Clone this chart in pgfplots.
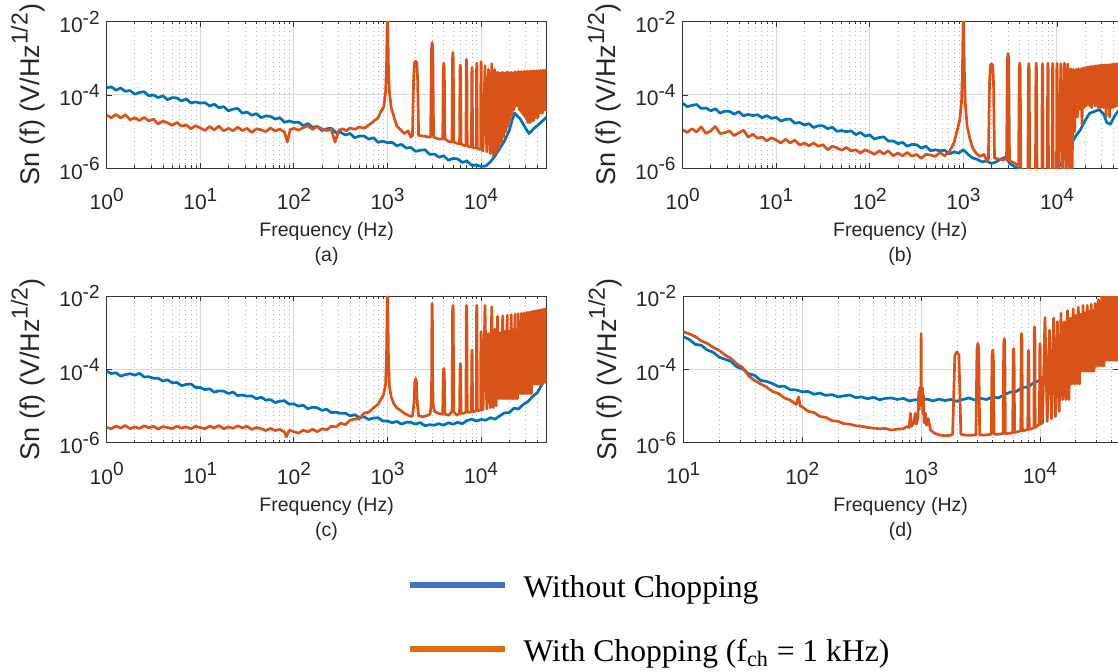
\documentclass[border=0pt]{standalone}
\usepackage{fontspec}
\setmainfont{Liberation Sans}
\newfontfamily\tnr{Liberation Serif}
\usepackage{pgfplots}
\pgfplotsset{compat=1.18}

\definecolor{mblue}{RGB}{0,114,189}
\definecolor{morange}{RGB}{217,83,25}
\definecolor{lgblue}{RGB}{68,114,196}
\definecolor{lgorange}{RGB}{228,108,10}

% MATLAB-style exponent: nearly full size, raised
\newcommand{\tsup}[1]{\raisebox{4.2pt}{\fontsize{9.5}{10}\selectfont #1}}

\pgfplotsset{
  every axis title/.style={at={(axis description cs:0.5,-0.6371)}, anchor=base,
    font=\fontsize{9.75}{11}\selectfont, text=black!85},
  every axis/.append style={
    scale only axis, height=73.3pt,
    xmode=log, ymode=log, ymin=1e-6, ymax=1e-2,
    ytick={1e-6,1e-4,1e-2},
    yticklabels={10\tsup{-6},10\tsup{-4},10\tsup{-2}},
    xmajorgrids=true, xminorgrids=true, ymajorgrids=true,
    major grid style={draw=black!15, line width=0.5pt},
    minor grid style={draw=black!30, line width=0.4pt, dash pattern=on 0.4pt off 1.8pt},
    axis line style={draw=black!80, line width=0.45pt},
    tick style={draw=black!80, line width=0.4pt},
    tick align=inside, major tick length=2.6pt, minor tick length=1.4pt,
    tick label style={font=\fontsize{10.5}{12}\selectfont, text=black!85},
    xticklabel style={yshift=-6.3pt},
    xlabel={Frequency (Hz)},
    xlabel style={at={(axis description cs:0.5,-0.4666)}, anchor=base,
      font=\fontsize{9.75}{11}\selectfont, text=black!85},
    ylabel={Sn (f) (V/Hz\raisebox{0.8ex}{\fontsize{11.5}{12}\selectfont 1/2})},
    ylabel style={at={(axis description cs:-0.1539,0.5)}, anchor=base,
      font=\fontsize{13.5}{15}\selectfont, text=black!85},
  },
  every axis plot/.append style={line width=1.35pt, line join=round},
}

\begin{document}
\begin{tikzpicture}
\useasboundingbox (0pt,0pt) rectangle (559pt,336pt);

% (a)
\begin{axis}[width=219.9pt, xmin=1, xmax=5e4, title={(a)},
  xtick={1,10,100,1000,10000},
  xticklabels={10\tsup{0},10\tsup{1},10\tsup{2},10\tsup{3},10\tsup{4}},
  minor xtick={2,3,4,5,6,7,8,9,20,30,40,50,60,70,80,90,200,300,400,500,600,700,800,900,2000,3000,4000,5000,6000,7000,8000,9000,20000,30000,40000},
  at={(53.35pt,251.85pt)}, anchor=south west]
\addplot[mblue] coordinates {
(1,1.58e-4) (1.12,1.66e-4) (1.26,1.35e-4) (1.41,1.55e-4) (1.58,1.26e-4) (1.78,1.32e-4) (2,1.05e-4) (2.24,1.17e-4) (2.51,1.23e-4) (2.82,9.5e-5)
(3.16,1.0e-4) (3.55,8.5e-5) (3.98,9.5e-5) (4.47,7.4e-5) (5.01,8.5e-5) (5.62,8.3e-5) (6.31,6.9e-5) (7.08,7.8e-5) (7.94,6.0e-5) (8.91,6.5e-5)
(10,6.0e-5) (11.2,6.2e-5) (12.6,5.0e-5) (14.1,5.6e-5) (15.8,4.5e-5) (17.8,4.8e-5) (20,3.7e-5) (22.4,4.1e-5) (25.1,4.3e-5) (28.2,3.2e-5)
(31.6,3.4e-5) (35.5,2.8e-5) (39.8,3.1e-5) (44.7,2.4e-5) (50.1,2.7e-5) (56.2,2.6e-5) (63.1,2.2e-5) (70.8,2.4e-5) (79.4,1.8e-5) (89.1,1.95e-5)
(100,1.78e-5) (112,1.82e-5) (126,1.45e-5) (141,1.66e-5) (158,1.32e-5) (178,1.38e-5) (200,1.07e-5) (224,1.2e-5) (251,1.23e-5) (282,9.3e-6)
(316,9.6e-6) (355,8.1e-6) (398,8.9e-6) (447,6.8e-6) (501,7.6e-6) (562,7.6e-6) (631,6.2e-6) (708,6.8e-6) (794,5.1e-6) (891,5.5e-6)
(1000,5.0e-6) (1122,5.1e-6) (1259,4.1e-6) (1413,4.5e-6) (1585,3.55e-6) (1778,3.7e-6) (1995,2.9e-6) (2239,3.1e-6) (2512,3.2e-6) (2818,2.4e-6)
(3162,2.45e-6) (3548,2.0e-6) (3981,2.2e-6) (4467,1.66e-6) (5012,1.86e-6) (5623,1.8e-6) (6310,1.45e-6) (7079,1.58e-6) (7943,1.2e-6) (8913,1.23e-6)
(10000,1.12e-6) (11220,1.15e-6) (12590,1.5e-6) (14130,2.2e-6) (15850,3.5e-6) (17780,5.6e-6) (19950,1.05e-5) (21380,2.0e-5) (22910,3.2e-5)
(24550,2.6e-5) (26300,2.2e-5) (28180,1.6e-5) (30200,1.2e-5) (32360,8.9e-6) (34670,1.05e-5) (37150,1.26e-5) (39810,1.45e-5) (44670,1.9e-5) (50120,2.5e-5)
};
\addplot[morange] coordinates {
(1,2.8e-5) (1.12,2.4e-5) (1.26,2.95e-5) (1.41,2.35e-5) (1.58,2.9e-5) (1.78,2.1e-5) (2,2.4e-5) (2.24,2.0e-5) (2.51,2.45e-5) (2.82,1.95e-5)
(3.16,2.2e-5) (3.55,1.62e-5) (3.98,1.95e-5) (4.47,1.74e-5) (5.01,1.48e-5) (5.62,1.78e-5) (6.31,1.41e-5) (7.08,1.51e-5) (7.94,1.2e-5) (8.91,1.45e-5)
(10,1.26e-5) (11.2,1.07e-5) (12.6,1.38e-5) (14.1,1.12e-5) (15.8,1.41e-5) (17.8,1.05e-5) (20,1.23e-5) (22.4,1.05e-5) (25.1,1.32e-5) (28.2,1.07e-5)
(31.6,1.23e-5) (35.5,9.5e-6) (39.8,1.2e-5) (44.7,1.12e-5) (50.1,1.0e-5) (56.2,1.26e-5) (63.1,1.05e-5) (70.8,1.17e-5) (79.4,9.8e-6) (85.1,5.2e-6) (91.2,1.12e-5)
(100,1.23e-5) (112,1.1e-5) (126,1.29e-5) (141,1.45e-5) (158,1.15e-5) (178,1.38e-5) (200,1.2e-5) (224,1.07e-5) (251,1.17e-5) (275,5.2e-6)
(302,1.07e-5) (331,1.2e-5) (363,1.05e-5) (398,1.26e-5) (447,1.15e-5) (501,1.35e-5) (562,1.23e-5) (631,1.51e-5) (708,1.9e-5) (794,2.4e-5)
(851,3.55e-5) (912,4.7e-5) (955,1.26e-4) (977,6.3e-4) (1000,3e-2) (1023,6.3e-4) (1047,1.26e-4) (1096,4.5e-5) (1175,2.5e-5) (1259,1.41e-5)
(1380,1.12e-5) (1514,8.9e-6) (1660,1.05e-5) (1778,7.1e-6)
(1850,7.9e-6) (1900,2.5e-4) (1940,7.6e-4) (2000,8.3e-4) (2060,7.6e-4) (2100,2.5e-4) (2150,8.0e-6) (2350,7.6e-6) (2550,7.4e-6) (2750,7.1e-6)
(2890,7.1e-6) (2955,1.9e-3) (3000,2.7e-3) (3045,1.9e-3) (3110,7.1e-6) (3500,6.3e-6)
(3890,6.3e-6) (3955,5.2e-4) (4000,7.4e-4) (4045,5.2e-4) (4110,6.3e-6) (4500,5.4e-6)
(4890,5.2e-6) (4955,1.0e-3) (5000,1.45e-3) (5045,1.0e-3) (5110,5.2e-6) (5500,4.8e-6)
(5890,4.7e-6) (5955,4.7e-4) (6000,6.6e-4) (6045,4.7e-4) (6110,4.7e-6) (6500,4.2e-6)
(6890,4.2e-6) (6955,6.6e-4) (7000,9.3e-4) (7045,6.6e-4) (7110,4.2e-6) (7500,3.8e-6)
(7890,3.8e-6) (7955,4.0e-4) (8000,5.6e-4) (8045,4.0e-4) (8110,3.8e-6) (8500,3.55e-6)
(8890,3.55e-6) (8955,5.2e-4) (9000,7.4e-4) (9045,5.2e-4) (9110,3.55e-6) (9500,3.3e-6)
(9890,3.3e-6) (9955,5.8e-4) (10000,8.1e-4) (10045,5.8e-4) (10110,3.3e-6) (10500,3.0e-6)
(11000,6.3e-4) (11500,2.8e-6) (12000,5.0e-4) (12500,2.5e-6) (13000,7.1e-4) (13500,2.2e-6) (14000,5.0e-4) (14500,2.5e-6)
(15000,4.2e-4) (15500,3.5e-6) (16000,4.0e-4) (16500,5.0e-6) (17000,4.2e-4) (17500,7.1e-6) (18000,4.0e-4) (18500,1.0e-5)
(19000,4.3e-4) (19500,1.41e-5) (20000,4.0e-4) (20500,2.0e-5) (21000,4.2e-4) (21500,2.8e-5) (22000,4.0e-4) (22500,4.0e-5)
(23000,4.3e-4) (23500,5.0e-5) (24000,4.1e-4) (24500,5.0e-5) (25000,4.4e-4) (25500,4.0e-5) (26000,4.2e-4) (26500,3.55e-5)
(27000,4.4e-4) (27500,3.2e-5) (28000,4.2e-4) (28500,2.8e-5) (29000,4.5e-4) (29500,2.5e-5) (30000,4.3e-4) (30500,2.2e-5)
(31000,4.5e-4) (31500,1.78e-5) (32000,4.3e-4) (32500,1.78e-5) (33000,4.5e-4) (33500,1.78e-5) (34000,4.4e-4) (34500,2.0e-5)
(35000,4.5e-4) (35500,2.0e-5) (36000,4.4e-4) (36500,2.0e-5) (37000,4.6e-4) (37500,2.4e-5) (38000,4.4e-4) (38500,2.4e-5)
(39000,4.6e-4) (39500,2.4e-5) (40000,4.5e-4) (40500,2.4e-5) (41000,4.6e-4) (41500,3.2e-5) (42000,4.5e-4) (42500,3.2e-5)
(43000,4.7e-4) (43500,3.2e-5) (44000,4.5e-4) (44500,3.2e-5) (45000,4.7e-4) (45500,3.2e-5) (46000,4.6e-4) (46500,4.0e-5)
(47000,4.7e-4) (47500,4.0e-5) (48000,4.6e-4) (48500,4.0e-5) (49000,4.8e-4) (49500,4.0e-5) (50000,4.7e-4)
};
\end{axis}

% (b)
\begin{axis}[width=217.7pt, xmin=1, xmax=44870, title={(b)},
  xtick={1,10,100,1000,10000},
  xticklabels={10\tsup{0},10\tsup{1},10\tsup{2},10\tsup{3},10\tsup{4}},
  minor xtick={2,3,4,5,6,7,8,9,20,30,40,50,60,70,80,90,200,300,400,500,600,700,800,900,2000,3000,4000,5000,6000,7000,8000,9000,20000,30000,40000},
  at={(341.3pt,251.85pt)}, anchor=south west]
\addplot[mblue] coordinates {
(1,6.0e-5) (1.12,4.8e-5) (1.26,5.2e-5) (1.41,5.5e-5) (1.58,4.3e-5) (1.78,4.4e-5) (2,3.7e-5) (2.24,4.2e-5) (2.51,3.2e-5) (2.82,3.6e-5)
(3.16,3.6e-5) (3.55,3.0e-5) (3.98,3.5e-5) (4.47,2.7e-5) (5.01,2.95e-5) (5.62,2.75e-5) (6.31,2.9e-5) (7.08,2.4e-5) (7.94,2.75e-5) (8.91,2.3e-5)
(10,2.45e-5) (11.2,1.95e-5) (12.6,2.15e-5) (14.1,2.2e-5) (15.8,1.7e-5) (17.8,1.78e-5) (20,1.51e-5) (22.4,1.66e-5) (25.1,1.29e-5) (28.2,1.45e-5)
(31.6,1.45e-5) (35.5,1.2e-5) (39.8,1.32e-5) (44.7,1.02e-5) (50.1,1.07e-5) (56.2,1.0e-5) (63.1,1.05e-5) (70.8,8.3e-6) (79.4,9.5e-6) (89.1,7.6e-6)
(100,8.1e-6) (112,6.3e-6) (126,6.9e-6) (141,7.2e-6) (158,5.5e-6) (178,5.6e-6) (200,4.7e-6) (224,5.1e-6) (251,4.0e-6) (282,4.5e-6)
(316,4.4e-6) (355,3.55e-6) (398,4.0e-6) (447,3.0e-6) (501,3.2e-6) (562,3.0e-6) (631,3.1e-6) (708,2.45e-6) (794,2.8e-6) (891,2.6e-6)
(1000,3.2e-6) (1122,2.4e-6) (1259,1.9e-6) (1413,1.74e-6) (1585,1.5e-6) (1778,1.58e-6) (1995,1.35e-6) (2239,1.5e-6) (2512,1.78e-6) (2818,2.0e-6)
(3162,1.32e-6) (3548,1.1e-6) (3981,9.5e-7) (5012,8.7e-7) (6310,8.3e-7) (7943,8.9e-7) (10000,9.1e-7) (11220,1.41e-6) (12590,2.5e-6) (14130,4.5e-6)
(15850,7.6e-6) (17780,1.12e-5) (19950,2.0e-5) (22390,3.2e-5) (25120,3.55e-5) (28180,4.0e-5) (31620,3.0e-5) (33880,1.78e-5) (37150,1.58e-5)
(41690,2.8e-5) (45710,3.8e-5) (50120,4.0e-5)
};
\addplot[morange] coordinates {
(1,1.12e-5) (1.12,9.5e-6) (1.26,1.2e-5) (1.41,9.8e-6) (1.58,1.35e-5) (1.78,8.9e-6) (2,1.05e-5) (2.24,1.38e-5) (2.51,8.9e-6) (2.82,9.3e-6)
(3.16,1.05e-5) (3.55,7.8e-6) (3.98,9.3e-6) (4.47,1.1e-5) (5.01,7.1e-6) (5.62,8.5e-6) (6.31,6.6e-6) (7.08,7.1e-6) (7.94,5.6e-6) (8.91,6.8e-6)
(10,5.9e-6) (11.2,4.9e-6) (12.6,6.2e-6) (14.1,4.9e-6) (15.8,5.9e-6) (17.8,4.3e-6) (20,4.9e-6) (22.4,4.1e-6) (25.1,4.9e-6) (28.2,4.0e-6)
(31.6,4.4e-6) (35.5,3.2e-6) (39.8,4.0e-6) (44.7,3.6e-6) (50.1,3.1e-6) (56.2,3.7e-6) (63.1,3.0e-6) (70.8,3.2e-6) (79.4,2.6e-6) (89.1,3.2e-6)
(100,2.8e-6) (112,2.4e-6) (126,3.0e-6) (141,2.45e-6) (158,3.0e-6) (178,2.2e-6) (200,2.6e-6) (224,2.2e-6) (251,2.7e-6) (282,2.15e-6)
(316,2.4e-6) (355,1.86e-6) (398,2.4e-6) (447,2.3e-6) (501,2.1e-6) (562,2.7e-6) (631,2.2e-6) (708,2.8e-6) (794,5.0e-6) (851,1.0e-5)
(912,2.0e-5) (955,6.3e-5) (977,5.0e-4) (1000,3e-2) (1023,5.0e-4) (1047,6.3e-5) (1096,1.41e-5) (1175,6.3e-6) (1259,3.55e-6) (1380,2.5e-6)
(1514,2.1e-6) (1660,2.4e-6) (1778,1.58e-6)
(1850,1.8e-6) (1900,2.0e-4) (1940,6.3e-4) (2000,7.1e-4) (2060,6.3e-4) (2100,2.0e-4) (2150,1.9e-6) (2350,1.8e-6) (2550,1.7e-6) (2750,1.75e-6)
(2890,1.78e-6) (2955,9.5e-4) (3000,1.35e-3) (3045,9.5e-4) (3110,1.6e-6) (3500,1.4e-6)
(3890,1.2e-6) (3955,5.2e-4) (4000,7.4e-4) (4045,5.2e-4) (4110,1.0e-6) (4500,8e-7)
(4890,8e-7) (4955,5.0e-4) (5000,7.2e-4) (5045,5.0e-4) (5110,8e-7) (5500,8e-7)
(5890,8e-7) (5955,5.2e-4) (6000,7.4e-4) (6045,5.2e-4) (6110,8e-7) (6500,8e-7)
(6890,8e-7) (6955,5.0e-4) (7000,7.1e-4) (7045,5.0e-4) (7110,8e-7) (7500,8e-7)
(7890,8e-7) (7955,5.2e-4) (8000,7.4e-4) (8045,5.2e-4) (8110,8e-7) (8500,8e-7)
(8890,8e-7) (8955,5.0e-4) (9000,7.2e-4) (9045,5.0e-4) (9110,8e-7) (9500,8e-7)
(9890,8e-7) (9955,5.2e-4) (10000,7.4e-4) (10045,5.2e-4) (10110,8e-7) (10500,8e-7)
(11000,7.2e-4) (11500,8e-7) (12000,7.4e-4) (12500,8e-7) (13000,7.0e-4) (13500,8e-7) (14000,5.2e-4) (14500,8e-7)
(15000,5.0e-4) (15500,1.0e-5) (16000,5.0e-4) (16500,2.5e-5) (17000,5.2e-4) (17500,4.0e-5) (18000,5.2e-4) (18500,1.58e-5)
(19000,5.5e-4) (19500,4.5e-5) (20000,5.5e-4) (20500,5.0e-5) (21000,5.8e-4) (21500,5.6e-5) (22000,5.8e-4) (22500,5.0e-5)
(23000,6.0e-4) (23500,4.5e-5) (24000,6.0e-4) (24500,6.3e-5) (25000,6.2e-4) (25500,5.0e-5) (26000,6.2e-4) (26500,5.6e-5)
(27000,6.3e-4) (27500,4.5e-5) (28000,6.3e-4) (28500,6.3e-5) (29000,6.5e-4) (29500,4.5e-5) (30000,6.5e-4) (30500,6.3e-5)
(31000,6.6e-4) (31500,4.5e-5) (32000,6.5e-4) (32500,5.6e-5) (33000,6.6e-4) (33500,2.5e-5) (34000,6.5e-4) (34500,5.6e-5)
(35000,6.6e-4) (35500,4.5e-5) (36000,6.6e-4) (36500,2.5e-5) (37000,6.8e-4) (37500,6.3e-5) (38000,6.6e-4) (38500,4.5e-5)
(39000,6.8e-4) (39500,6.3e-5) (40000,6.8e-4) (40500,4.5e-5) (41000,7.0e-4) (41500,6.3e-5) (42000,6.8e-4) (42500,5.0e-5)
(43000,7.0e-4) (43500,6.3e-5) (44000,7.0e-4) (44500,5.0e-5) (45000,7.1e-4) (45500,6.3e-5) (46000,7.0e-4)
};
\end{axis}

% (c)
\begin{axis}[width=219.9pt, xmin=1, xmax=5e4, title={(c)},
  xtick={1,10,100,1000,10000},
  xticklabels={10\tsup{0},10\tsup{1},10\tsup{2},10\tsup{3},10\tsup{4}},
  minor xtick={2,3,4,5,6,7,8,9,20,30,40,50,60,70,80,90,200,300,400,500,600,700,800,900,2000,3000,4000,5000,6000,7000,8000,9000,20000,30000,40000},
  legend style={at={(axis description cs:0.6821,-0.9025)}, anchor=north west,
    draw=none, fill=none, inner sep=0pt, outer sep=0pt,
    font=\tnr\fontsize{15.8}{18}\selectfont, text=black,
    row sep=17.5pt, column sep=7.5pt,
    nodes={inner sep=0pt, text height=11pt, text depth=3.5pt}, cells={anchor=base west}},
  legend image code/.code={\draw[#1] (0pt,6pt) -- (47.65pt,6pt);},
  at={(53.35pt,114.65pt)}, anchor=south west]
\addplot[mblue, forget plot] coordinates {
(1,8.9e-5) (1.12,7.7e-5) (1.26,8.1e-5) (1.41,6.5e-5) (1.58,7.2e-5) (1.78,7.6e-5) (2,7.0e-5) (2.24,7.8e-5) (2.51,6.2e-5) (2.82,6.3e-5)
(3.16,5.75e-5) (3.55,5.75e-5) (3.98,4.8e-5) (4.47,5.2e-5) (5.01,4.3e-5) (5.62,4.4e-5) (6.31,3.6e-5) (7.08,3.9e-5) (7.94,4.0e-5) (8.91,3.2e-5)
(10,3.2e-5) (11.2,2.8e-5) (12.6,2.95e-5) (14.1,2.4e-5) (15.8,2.6e-5) (17.8,2.55e-5) (20,2.2e-5) (22.4,2.4e-5) (25.1,1.93e-5) (28.2,2.0e-5)
(31.6,1.86e-5) (35.5,1.88e-5) (39.8,1.58e-5) (44.7,1.74e-5) (50.1,1.45e-5) (56.2,1.5e-5) (63.1,1.24e-5) (70.8,1.36e-5) (79.4,1.4e-5) (89.1,1.12e-5)
(100,1.15e-5) (112,9.9e-6) (126,1.05e-5) (141,8.4e-6) (158,9.3e-6) (178,9.0e-6) (200,7.6e-6) (224,8.2e-6) (251,6.6e-6) (282,6.8e-6)
(316,6.3e-6) (355,6.4e-6) (398,5.4e-6) (447,5.8e-6) (501,4.8e-6) (562,5.1e-6) (631,4.3e-6) (708,4.7e-6) (794,4.8e-6) (891,3.9e-6)
(1000,3.9e-6) (1122,3.5e-6) (1259,3.8e-6) (1413,3.2e-6) (1585,3.6e-6) (1778,3.6e-6) (1995,3.2e-6) (2239,3.55e-6) (2512,2.9e-6) (2818,3.1e-6)
(3162,3.0e-6) (3548,3.3e-6) (3981,3.0e-6) (4467,3.5e-6) (5012,3.2e-6) (5623,3.6e-6) (6310,3.3e-6) (7079,4.0e-6) (7943,4.4e-6) (8913,3.9e-6)
(10000,4.3e-6) (11220,4.1e-6) (12590,4.8e-6) (14130,4.4e-6) (15850,5.4e-6) (17780,6.5e-6) (19950,6.6e-6) (22390,8.7e-6) (25120,8.3e-6)
(28180,1.1e-5) (31620,1.32e-5) (35480,1.82e-5) (39810,2.3e-5) (44670,3.9e-5) (50120,5.6e-5)
};
\addplot[morange, forget plot] coordinates {
(1,2.6e-6) (1.12,2.4e-6) (1.26,2.85e-6) (1.41,2.5e-6) (1.58,2.95e-6) (1.78,2.4e-6) (2,2.7e-6) (2.24,2.45e-6) (2.51,2.9e-6) (2.82,2.55e-6)
(3.16,2.8e-6) (3.55,2.35e-6) (3.98,2.75e-6) (4.47,2.6e-6) (5.01,2.4e-6) (5.62,2.85e-6) (6.31,2.5e-6) (7.08,2.7e-6) (7.94,2.4e-6) (8.91,2.8e-6)
(10,2.6e-6) (11.2,2.4e-6) (12.6,2.85e-6) (14.1,2.5e-6) (15.8,2.95e-6) (17.8,2.4e-6) (20,2.7e-6) (22.4,2.45e-6) (25.1,2.9e-6) (28.2,2.55e-6)
(31.6,2.8e-6) (35.5,2.3e-6) (39.8,2.6e-6) (44.7,2.4e-6) (50.1,2.15e-6) (56.2,2.45e-6) (63.1,2.15e-6) (70.8,2.3e-6) (79.4,1.95e-6) (83.2,1.45e-6) (89.1,2.2e-6)
(100,2.0e-6) (112,1.82e-6) (126,2.2e-6) (141,1.97e-6) (158,2.35e-6) (178,2.0e-6) (200,2.4e-6) (224,2.25e-6) (251,2.8e-6) (282,2.7e-6)
(316,3.4e-6) (355,3.1e-6) (398,4.1e-6) (447,4.4e-6) (501,4.5e-6) (562,6.4e-6) (631,6.8e-6) (708,8.9e-6) (794,1.12e-5) (851,1.51e-5)
(912,2.1e-5) (955,4.0e-5) (977,2.5e-4) (1000,3e-2) (1023,2.5e-4) (1047,3.55e-5) (1096,1.78e-5) (1175,1.12e-5) (1259,8.9e-6) (1380,7.6e-6)
(1514,6.3e-6) (1660,5.6e-6) (1800,5.2e-6)
(1850,5.4e-6) (1920,1.2e-5) (1960,4.5e-5) (2000,5.6e-5) (2040,4.5e-5) (2080,1.2e-5) (2150,5.4e-6) (2400,5.1e-6) (2650,5.5e-6) (2850,6.0e-6)
(2920,1.0e-5) (2960,4.5e-5) (2985,4.5e-3) (3000,6.3e-3) (3015,4.5e-3) (3040,4.5e-5) (3080,1.0e-5) (3200,7.1e-6) (3500,6.3e-6) (3800,6.0e-6)
(3890,6.0e-6) (3955,7.6e-5) (4000,1.07e-4) (4045,7.6e-5) (4110,6.0e-6) (4500,5.6e-6)
(4900,7.0e-6) (4960,4.0e-3) (5000,5.6e-3) (5040,4.0e-3) (5100,7.0e-6) (5500,5.6e-6)
(5890,6.3e-6) (5955,1.0e-4) (6000,1.45e-4) (6045,1.0e-4) (6110,6.3e-6) (6500,6.3e-6)
(6890,6.8e-6) (6955,4.0e-3) (7000,5.6e-3) (7045,4.0e-3) (7110,6.8e-6) (7500,6.8e-6)
(7890,7.1e-6) (7955,2.4e-4) (8000,3.4e-4) (8045,2.4e-4) (8110,7.1e-6) (8500,7.1e-6)
(8890,7.6e-6) (8955,4.0e-3) (9000,5.6e-3) (9045,4.0e-3) (9110,7.6e-6) (9500,7.6e-6)
(9890,7.9e-6) (9955,7.6e-4) (10000,1.07e-3) (10045,7.6e-4) (10110,7.9e-6) (10500,7.9e-6)
(11000,5.6e-3) (11500,8.3e-6) (12000,9.5e-4) (12500,8.9e-6) (13000,5.1e-3) (13500,8.9e-6) (14000,1.26e-3) (14500,1.0e-5)
(15000,2.8e-3) (15500,1.58e-5) (16000,1.0e-3) (16500,1.58e-5) (17000,2.9e-3) (17500,1.58e-5) (18000,1.1e-3) (18500,1.58e-5)
(19000,3.0e-3) (19500,1.58e-5) (20000,1.1e-3) (20500,1.58e-5) (21000,3.1e-3) (21500,1.58e-5) (22000,1.2e-3) (22500,1.58e-5)
(23000,3.2e-3) (23500,1.58e-5) (24000,1.2e-3) (24500,1.58e-5) (25000,3.3e-3) (25500,2.2e-5) (26000,1.3e-3) (26500,2.2e-5)
(27000,3.4e-3) (27500,2.2e-5) (28000,1.3e-3) (28500,2.2e-5) (29000,3.5e-3) (29500,2.2e-5) (30000,1.4e-3) (30500,2.2e-5)
(31000,3.6e-3) (31500,2.2e-5) (32000,1.4e-3) (32500,2.2e-5) (33000,3.7e-3) (33500,2.2e-5) (34000,1.5e-3) (34500,2.2e-5)
(35000,3.8e-3) (35500,4.0e-5) (36000,1.5e-3) (36500,4.0e-5) (37000,3.9e-3) (37500,4.0e-5) (38000,1.6e-3) (38500,4.0e-5)
(39000,4.0e-3) (39500,4.0e-5) (40000,1.6e-3) (40500,4.0e-5) (41000,4.1e-3) (41500,4.0e-5) (42000,1.7e-3) (42500,4.0e-5)
(43000,4.2e-3) (43500,4.0e-5) (44000,1.7e-3) (44500,4.0e-5) (45000,4.3e-3) (45500,4.5e-5) (46000,1.8e-3) (46500,4.5e-5)
(47000,4.4e-3) (47500,4.5e-5) (48000,1.8e-3) (48500,4.5e-5) (49000,4.5e-3) (49500,4.5e-5) (50000,4.5e-3)
};
\addlegendimage{lgblue, line width=3.3pt}
\addlegendentry{Without Chopping}
\addlegendimage{lgorange, line width=3.3pt}
\addlegendentry{With Chopping (f\textsubscript{ch} = 1 kHz)}
\end{axis}

% (d)
\begin{axis}[width=217.35pt, xmin=10, xmax=45290, title={(d)},
  xtick={10,100,1000,10000},
  xticklabels={10\tsup{1},10\tsup{2},10\tsup{3},10\tsup{4}},
  minor xtick={20,30,40,50,60,70,80,90,200,300,400,500,600,700,800,900,2000,3000,4000,5000,6000,7000,8000,9000,20000,30000,40000},
  at={(341.65pt,114.65pt)}, anchor=south west]
\addplot[mblue] coordinates {
(10,7.8e-4) (11.2,6.6e-4) (12.6,4.8e-4) (14.1,4.6e-4) (15.8,3.4e-4) (17.8,2.95e-4) (20,2.15e-4) (22.4,1.9e-4) (25.1,1.66e-4) (28.2,1.17e-4)
(31.6,1.02e-4) (35.5,7.6e-5) (39.8,6.9e-5) (44.7,5.0e-5) (50.1,4.7e-5) (56.2,4.1e-5) (63.1,3.4e-5) (70.8,3.5e-5) (79.4,2.8e-5) (89.1,2.75e-5)
(100,2.45e-5) (112,2.5e-5) (126,2.1e-5) (141,2.25e-5) (158,1.95e-5) (178,2.05e-5) (200,1.78e-5) (224,1.9e-5) (251,2.0e-5) (282,1.7e-5)
(316,1.78e-5) (355,1.58e-5) (398,1.74e-5) (447,1.48e-5) (501,1.62e-5) (562,1.66e-5) (631,1.51e-5) (708,1.62e-5) (794,1.38e-5) (891,1.48e-5)
(1000,1.45e-5) (1122,1.55e-5) (1259,1.38e-5) (1413,1.55e-5) (1585,1.41e-5) (1778,1.51e-5) (1995,1.35e-5) (2239,1.51e-5) (2512,1.66e-5) (2818,1.48e-5)
(3162,1.62e-5) (3548,1.51e-5) (3981,1.78e-5) (4467,1.66e-5) (5012,2.05e-5) (5623,2.4e-5) (6310,2.5e-5) (7079,3.2e-5) (7943,3.3e-5) (8913,4.4e-5)
(10000,5.0e-5) (11220,6.8e-5) (12590,7.6e-5) (14130,1.12e-4) (15850,1.35e-4) (17780,2.15e-4) (19950,2.6e-4) (22390,3.7e-4) (25120,4.8e-4)
(28180,4.6e-4) (31620,5.0e-4) (35480,6.8e-4) (39810,6.8e-4) (44670,7.9e-4) (50120,7.4e-4)
};
\addplot[morange] coordinates {
(10,1.07e-3) (11.2,9.3e-4) (12.6,7.9e-4) (14.1,6.0e-4) (15.8,5.2e-4) (17.8,4.0e-4) (20,3.3e-4) (22.4,2.5e-4) (25.1,2.0e-4) (28.2,1.41e-4)
(31.6,1.12e-4) (35.5,6.6e-5) (39.8,5.0e-5) (44.7,4.0e-5) (50.1,3.3e-5) (56.2,2.5e-5) (63.1,2.2e-5) (70.8,1.66e-5) (79.4,1.45e-5) (89.1,1.1e-5)
(93.3,1.78e-5) (96,1.0e-5)
(100,9.5e-6) (112,7.2e-6) (126,6.6e-6) (141,5.2e-6) (158,4.9e-6) (178,4.0e-6) (200,3.8e-6) (224,3.3e-6) (251,3.2e-6) (282,2.9e-6)
(316,2.8e-6) (355,2.6e-6) (398,2.5e-6) (447,2.4e-6) (501,2.45e-6) (562,2.2e-6) (631,2.35e-6) (708,2.4e-6) (759,2.75e-6) (794,2.6e-6)
(813,6.3e-6) (832,2.8e-6) (871,3.55e-6) (891,6.3e-6) (912,3.2e-6)
(940,5.0e-6) (955,2.5e-5) (965,8e-6) (975,3.2e-5) (985,1.0e-5) (995,3.5e-5) (1000,9.5e-4) (1005,3.5e-5) (1015,1.0e-5) (1025,3.2e-5)
(1035,6e-6) (1045,2.0e-5) (1060,3.5e-6) (1090,6.3e-6) (1110,3.0e-6) (1150,4.5e-6) (1200,2.2e-6) (1300,1.8e-6) (1450,1.6e-6) (1600,1.55e-6)
(1750,1.6e-6) (1840,1.7e-6)
(1900,6.3e-5) (1920,2.4e-4) (2000,3.0e-4) (2080,2.4e-4) (2100,6.3e-5) (2160,1.7e-6) (2400,1.6e-6) (2650,1.6e-6) (2850,1.65e-6)
(2890,1.62e-6) (2950,3.6e-4) (3000,5.1e-4) (3050,3.6e-4) (3110,1.62e-6) (3500,1.62e-6)
(3890,1.7e-6) (3950,2.4e-4) (4000,3.4e-4) (4050,2.4e-4) (4110,1.7e-6) (4500,1.7e-6)
(4890,1.78e-6) (4950,4.9e-4) (5000,6.9e-4) (5050,4.9e-4) (5110,1.78e-6) (5500,1.8e-6)
(5890,1.9e-6) (5950,2.6e-4) (6000,3.7e-4) (6050,2.6e-4) (6110,1.9e-6) (6500,2.0e-6)
(6890,2.1e-6) (6950,6.7e-4) (7000,9.5e-4) (7050,6.7e-4) (7110,2.1e-6) (7500,2.2e-6)
(7890,2.3e-6) (7950,2.3e-4) (8000,3.3e-4) (8050,2.3e-4) (8110,2.3e-6) (8500,2.4e-6)
(8890,2.6e-6) (8950,1.0e-3) (9000,1.45e-3) (9050,1.0e-3) (9110,2.6e-6) (9500,2.9e-6)
(9890,3.2e-6) (9950,3.6e-4) (10000,5.1e-4) (10050,3.6e-4) (10110,3.2e-6) (10500,3.5e-6)
(11000,2.6e-3) (11500,3.8e-6) (12000,1.17e-3) (12500,4.5e-6) (13000,2.5e-3) (13500,5.2e-6) (14000,2.0e-3) (14500,7.1e-6)
(15000,3.4e-3) (15500,1.5e-5) (16000,2.0e-3) (16500,1.5e-5) (17000,4.0e-3) (17500,1.5e-5) (18000,2.5e-3) (18500,4.0e-5)
(19000,4.5e-3) (19500,4.0e-5) (20000,3.0e-3) (20500,4.0e-5) (21000,5.0e-3) (21500,4.0e-5) (22000,3.2e-3) (22500,8.9e-5)
(23000,5.6e-3) (23500,8.9e-5) (24000,3.5e-3) (24500,8.9e-5) (25000,5.6e-3) (25500,8.9e-5) (26000,3.8e-3) (26500,8.9e-5)
(27000,6.0e-3) (27500,8.9e-5) (28000,4.0e-3) (28500,8.9e-5) (29000,6.3e-3) (29500,1.26e-4) (30000,6.0e-3) (30500,1.26e-4)
(31000,8.0e-3) (31500,1.26e-4) (32000,7.0e-3) (32500,1.26e-4) (33000,1.2e-2) (33500,1.26e-4) (34000,1.2e-2) (34500,1.26e-4)
(35000,1.2e-2) (35500,1.78e-4) (36000,1.2e-2) (36500,1.78e-4) (37000,1.2e-2) (37500,1.78e-4) (38000,1.2e-2) (38500,1.78e-4)
(39000,1.2e-2) (39500,1.78e-4) (40000,1.2e-2) (40500,1.78e-4) (41000,1.2e-2) (41500,1.78e-4) (42000,1.2e-2) (42500,1.78e-4)
(43000,1.2e-2) (43500,1.78e-4) (44000,1.2e-2) (44500,1.78e-4) (45000,1.2e-2) (45500,1.78e-4) (46000,1.2e-2)
};
\end{axis}
\end{tikzpicture}
\end{document}
